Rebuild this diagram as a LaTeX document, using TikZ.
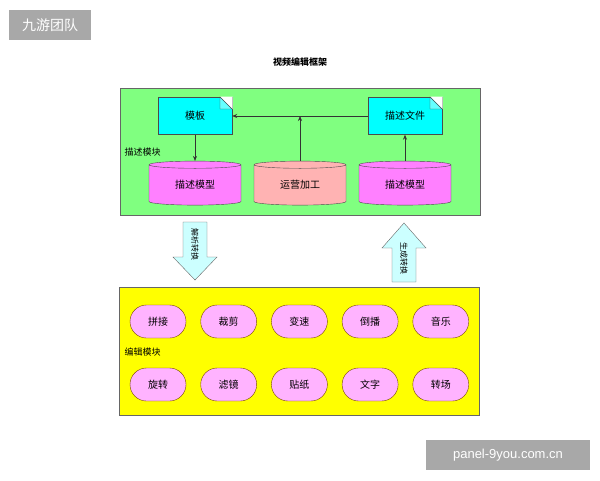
\documentclass[tikz,border=0pt]{standalone}
\usepackage{fontspec}
\setmainfont{Liberation Sans}
\newfontfamily\cjk{Noto Sans CJK SC}
\usetikzlibrary{shapes.geometric,shapes.symbols,shapes.misc,arrows.meta}
\definecolor{grn}{HTML}{80FF80}
\definecolor{cyn}{HTML}{00FFFF}
\definecolor{mag}{HTML}{FF80FF}
\definecolor{pnk}{HTML}{FFB3B3}
\definecolor{ylw}{HTML}{FFFF00}
\definecolor{pill}{HTML}{FFB3FF}
\definecolor{arr}{HTML}{CCFFFF}
\definecolor{wm}{HTML}{A8A8A8}
\tikzset{
 x=1pt,y=-1pt,
 txt/.style={font=\cjk\fontsize{10}{12}\selectfont},
 doc/.style={shape=rectangle,draw=black!70,fill=cyn,minimum width=74pt,minimum height=37pt,txt,inner sep=0pt},
 cyl/.style={cylinder,shape border rotate=90,aspect=0.18,draw=black!70,minimum width=92pt,minimum height=44pt,txt,inner sep=0pt},
 pil/.style={rounded rectangle,draw={rgb,255:red,120;green,70;blue,0},fill=pill,minimum width=56pt,minimum height=33pt,txt,inner sep=0pt},
 con/.style={draw=black!80,-{Stealth[length=5pt,width=4pt]},line width=0.6pt},
 bigarr/.style={draw=black!60,fill=arr},
 arrtxt/.style={font=\cjk\fontsize{8}{9}\selectfont,rotate=-90,inner sep=0pt}
}
\begin{document}
\begin{tikzpicture}
\useasboundingbox (0,0) rectangle (600,480);
\node[fill=wm,minimum width=82pt,minimum height=30pt,text=white,font=\cjk\fontsize{14}{16}\selectfont] (wm1) at (50,25) {九游团队};
\node[fill=wm,minimum width=164pt,minimum height=30pt,text=white,font=\fontsize{13}{15}\selectfont] (wm2) at (508,455) {panel-9you.com.cn};
\node[txt,font=\cjk\bfseries\fontsize{9}{11}\selectfont] (title) at (300,62) {视频编辑框架};
% green module
\node[draw=black!60,fill=grn,minimum width=360pt,minimum height=127pt] (desc) at (300,151.5) {};
\node[txt,anchor=west,font=\cjk\fontsize{9}{11}\selectfont] (descl) at (121,152) {描述模块};
\node[doc] (tpl) at (195,116) {模板};
\node[doc] (dfile) at (405,116) {描述文件};
\foreach \xx in {232,442}{
 \fill[white] (\xx-12,96.5) -- (\xx+0.5,96.5) -- (\xx+0.5,109) -- cycle;
 \draw[black!70,fill=cyn!60] (\xx-12,97) -- (\xx-12,109) -- (\xx,109) -- cycle;
}
\node[cyl,fill=mag] (m1) at (195,185) {描述模型};
\node[cyl,fill=pnk] (op) at (300,185) {运营加工};
\node[cyl,fill=mag] (m2) at (405,185) {描述模型};
\draw[con] (tpl.south) -- (m1.top);
\draw[con] (m2.top) -- (dfile.south);
\draw[con] (dfile.west) -- (tpl.east);
\draw[con] (op.top) -- (op.top |- tpl.east);
% big arrows
\draw[bigarr] (183,222) -- (207,222) -- (207,257) -- (217,257) -- (195,280) -- (173,257) -- (183,257) -- cycle;
\node[arrtxt] (down) at (195,244) {解析转换};
\draw[bigarr] (392,282) -- (416,282) -- (416,248) -- (426,248) -- (404,223) -- (382,248) -- (392,248) -- cycle;
\node[arrtxt] (up) at (404,258) {生成转换};
% yellow module
\node[draw=black!60,fill=ylw,minimum width=360pt,minimum height=128pt] (edit) at (299,351) {};
\node[txt,anchor=west,font=\cjk\fontsize{9}{11}\selectfont] (editl) at (121,352) {编辑模块};
\foreach \t [count=\i from 0] in {拼接,裁剪,变速,倒播,音乐}
 \node[pil] (a\i) at (158+70.7*\i,321.5) {\t};
\foreach \t [count=\i from 0] in {旋转,滤镜,贴纸,文字,转场}
 \node[pil] (b\i) at (158+70.7*\i,384.5) {\t};
\end{tikzpicture}
\end{document}
